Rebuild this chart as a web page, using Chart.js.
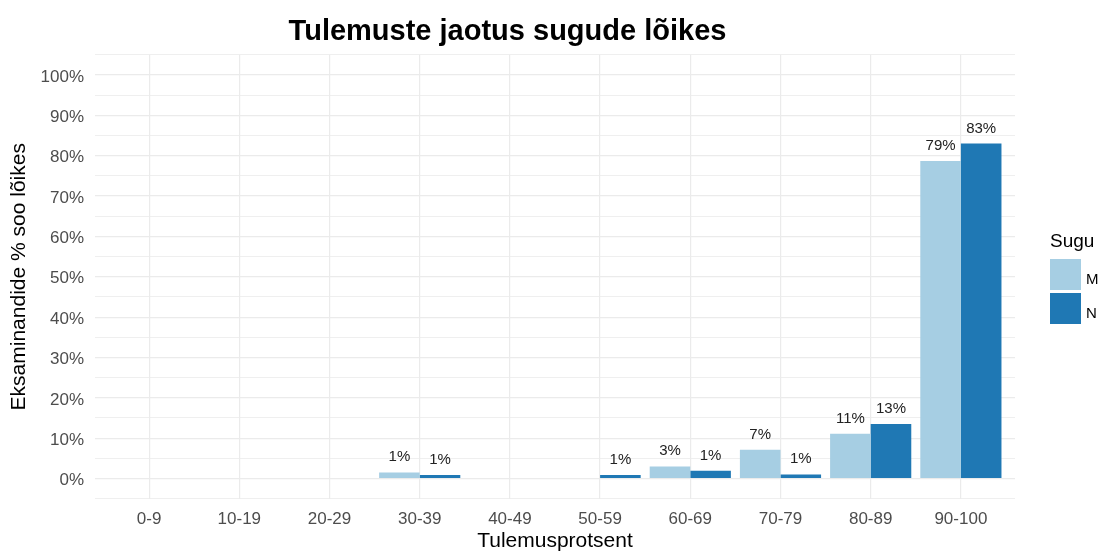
<!DOCTYPE html>
<html>
<head>
<meta charset="utf-8">
<script src="https://cdn.jsdelivr.net/npm/chart.js"></script>
<style>
  body { margin: 0; background: #fff; }
</style>
</head>
<body>
<canvas id="myChart" width="1101" height="551"></canvas>
<script>
const categories = ['0-9', '10-19', '20-29', '30-39', '40-49', '50-59', '60-69', '70-79', '80-89', '90-100']

// percent of each gender group
const valuesM = [null, null, null, 1.5, null, null, 3.0, 7.1, 11.1, 78.7]
const valuesN = [null, null, null, 0.9, null, 0.9, 1.9, 1.0, 13.5, 83.0]

// labels as printed on the bars
const labelsM = [null, null, null, '1%', null, null, '3%', '7%', '11%', '79%']
const labelsN = [null, null, null, '1%', null, '1%', '1%', '1%', '13%', '83%']

const seriesNames = ['M', 'N']
const legendTitle = 'Sugu'

let colorM = '#a6cee3'
let colorN = '#1f78b4'
let gridColor = '#ebebeb'
let tickColor = '#4d4d4d'
let fontFamily = '"Liberation Sans", Arial, sans-serif'

const barLabels = {
    id: 'barLabels',
    afterDatasetsDraw(chart) {
        const ctx = chart.ctx
        ctx.save()
        ctx.font = '15px ' + fontFamily
        ctx.fillStyle = '#222'
        ctx.textAlign = 'center'
        ctx.textBaseline = 'alphabetic'
        chart.data.datasets.forEach((ds, di) => {
            const meta = chart.getDatasetMeta(di)
            meta.data.forEach((el, i) => {
                const txt = ds.barText[i]
                if (txt == null) return
                ctx.fillText(txt, el.x, el.y - 11)
            })
        })
        ctx.restore()
    }
}

// ggplot-like legend at the right
const sideLegend = {
    id: 'sideLegend',
    afterDraw(chart) {
        const ctx = chart.ctx
        ctx.save()
        ctx.fillStyle = '#000'
        ctx.textAlign = 'left'
        ctx.textBaseline = 'alphabetic'
        ctx.font = '19px ' + fontFamily
        ctx.fillText(legendTitle, 1050, 247)
        chart.data.datasets.forEach((ds, i) => {
            let y = 259 + i * 34
            ctx.fillStyle = ds.backgroundColor
            ctx.fillRect(1050, y, 31, 31)
            ctx.fillStyle = '#000'
            ctx.font = '15px ' + fontFamily
            ctx.fillText(ds.label, 1086, y + 25)
        })
        ctx.restore()
    }
}

const data = {
    datasets: [
        {
            label: seriesNames[0],
            data: categories.map((c, i) => ({ x: i, y: valuesM[i] })),
            barText: labelsM,
            backgroundColor: colorM,
            borderWidth: 0
        },
        {
            label: seriesNames[1],
            data: categories.map((c, i) => ({ x: i, y: valuesN[i] })),
            barText: labelsN,
            backgroundColor: colorN,
            borderWidth: 0
        }
    ]
}

const config = {
    type: 'bar',
    data: data,
    plugins: [barLabels, sideLegend],
    options: {
        responsive: false,
        animation: false,
        layout: {
            padding: { right: 86 }
        },
        datasets: {
            bar: {
                categoryPercentage: 0.9,
                barPercentage: 1.0
            }
        },
        plugins: {
            legend: { display: false },
            tooltip: { enabled: false },
            title: {
                display: true,
                text: 'Tulemuste jaotus sugude lõikes',
                color: '#000',
                font: { family: fontFamily, size: 29, weight: 'bold' },
                padding: { top: 15, bottom: 5 }
            }
        },
        scales: {
            x: {
                type: 'linear',
                min: -0.6,
                max: 9.6,
                offset: false,
                afterBuildTicks: (scale) => {
                    scale.ticks = categories.map((c, i) => ({ value: i }))
                },
                afterFit: (scale) => {
                    scale.height = 52.3
                },
                grid: { color: gridColor, lineWidth: 1.2, drawTicks: false, offset: false },
                border: { display: false },
                ticks: {
                    color: tickColor,
                    font: { family: fontFamily, size: 17 },
                    padding: 10,
                    maxRotation: 0,
                    autoSkip: false,
                    callback: (v) => categories[v]
                },
                title: {
                    display: true,
                    text: 'Tulemusprotsent',
                    color: '#000',
                    font: { family: fontFamily, size: 21, lineHeight: 0.9 },
                    padding: { top: 0, bottom: 0 }
                }
            },
            y: {
                min: -5,
                max: 105,
                afterFit: (scale) => {
                    scale.width = 95
                },
                grid: {
                    color: gridColor,
                    drawTicks: false,
                    lineWidth: (ctx) => (ctx.tick && ctx.tick.value % 10 === 0 ? 1.2 : 0.8)
                },
                border: { display: false },
                ticks: {
                    stepSize: 5,
                    autoSkip: false,
                    color: tickColor,
                    font: { family: fontFamily, size: 17 },
                    padding: 11,
                    labelOffset: 2,
                    callback: (v) => (v % 10 === 0 && v >= 0 && v <= 100 ? v + '%' : '')
                },
                title: {
                    display: true,
                    text: 'Eksaminandide % soo lõikes',
                    color: '#000',
                    font: { family: fontFamily, size: 21 },
                    padding: { top: 7, bottom: 0 }
                }
            }
        }
    }
}

const myChart = new Chart(document.getElementById('myChart'), config)
</script>
</body>
</html>
